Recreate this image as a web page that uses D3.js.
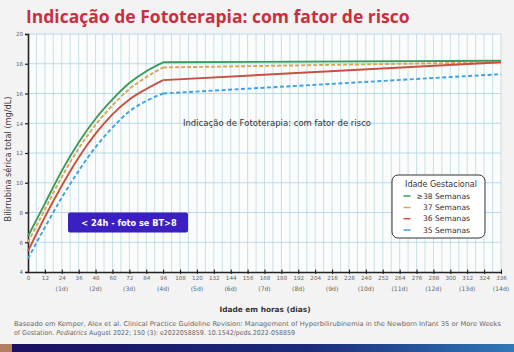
<!DOCTYPE html>
<html><head><meta charset="utf-8">
<script src="https://cdn.jsdelivr.net/npm/d3@7"></script>
<style>
html,body{margin:0;padding:0;background:#f3f3f3;}
svg{display:block;font-family:"DejaVu Sans",sans-serif;}
</style></head>
<body>
<script>
const hours = [0,12,24,36,48,60,72,84,96,336];
const ga38 = [6.4,8.6,10.8,12.7,14.3,15.6,16.7,17.5,18.1,18.2];
const ga37 = [6.0,8.2,10.4,12.3,13.9,15.2,16.3,17.1,17.75,18.1];
const ga36 = [5.4,7.7,9.8,11.7,13.3,14.6,15.6,16.3,16.9,18.1];
const ga35 = [4.9,7.0,9.0,10.8,12.4,13.7,14.8,15.5,16.0,17.3];
const seriesNames = ["\u226538 Semanas","37 Semanas","36 Semanas","35 Semanas"];
const xTicks = d3.range(0,337,12);
const yTicks = [4,6,8,10,12,14,16,18,20];
const dayLabels = ["(1d)","(2d)","(3d)","(4d)","(5d)","(6d)","(7d)","(8d)","(9d)","(10d)","(11d)","(12d)","(13d)","(14d)"];

const W=514,H=352;
const svg=d3.select("body").append("svg").attr("width",W).attr("height",H);
const x=d3.scaleLinear().domain([0,336]).range([28,501]);
const y=d3.scaleLinear().domain([4,20]).range([272,34]);

// title
svg.append("text").attr("x",26).attr("y",23).attr("fill","#c8303f")
 .attr("font-size",17.5).attr("font-weight",700).attr("font-family","Open Sans, sans-serif")
 .text("Indicação de Fototerapia: com fator de risco");

// plot bg
svg.append("rect").attr("x",x(0)).attr("y",y(20)).attr("width",x(336)-x(0)).attr("height",y(4)-y(20)).attr("fill","#fbfcfc");

// grid
const g=svg.append("g");
g.selectAll("line.v").data(d3.range(6,337,6)).join("line")
 .attr("x1",d=>x(d)).attr("x2",d=>x(d)).attr("y1",y(20)).attr("y2",y(4))
 .attr("stroke","#bcd8e3").attr("stroke-width",0.8);
g.selectAll("line.h").data(yTicks.slice(1)).join("line")
 .attr("x1",x(0)).attr("x2",x(336)).attr("y1",d=>y(d)).attr("y2",d=>y(d))
 .attr("stroke","#a9d3ea").attr("stroke-width",0.8);

// axes
const ya=svg.append("g").attr("transform",`translate(${x(0)},0)`)
 .call(d3.axisLeft(y).tickValues(yTicks).tickSize(3).tickPadding(2));
ya.select(".domain").attr("stroke","#222").attr("stroke-width",1.6);
ya.selectAll(".tick line").attr("stroke","#222").attr("stroke-width",1.2);
ya.selectAll(".tick text").attr("font-size",5.6).attr("fill","#666").attr("font-family","DejaVu Sans, sans-serif");

const xa=svg.append("g").attr("transform",`translate(0,${y(4)})`)
 .call(d3.axisBottom(x).tickValues(xTicks).tickSize(0).tickPadding(4));
xa.select(".domain").attr("stroke","#222").attr("stroke-width",1.6);
xa.selectAll(".tick text").attr("font-size",5.6).attr("fill","#666").attr("font-family","DejaVu Sans, sans-serif");
xa.selectAll(".tick").filter(d=>d>0).append("line").attr("y1",-2.5).attr("y2",2).attr("stroke","#222").attr("stroke-width",1.1);
svg.selectAll("text.day").data(dayLabels).join("text")
 .attr("x",(d,i)=>x((i+1)*24)).attr("y",291).attr("text-anchor","middle")
 .attr("font-size",6.1).attr("fill","#666").text(d=>d);

// axis titles
svg.append("text").attr("transform","translate(11,159) rotate(-90)").attr("text-anchor","middle")
 .attr("font-size",8.2).attr("fill","#333").text("Bilirrubina sérica total (mg/dL)");
svg.append("text").attr("x",265).attr("y",312).attr("text-anchor","middle")
 .attr("font-size",7.4).attr("font-weight",700).attr("fill","#333").text("Idade em horas   (dias)");

// lines
const colors=["#3a9a5e","#dca553","#c8513f","#3ea2de"];
const dashes=[null,"4,2","","4,2.5"];
const data=[ga38,ga37,ga36,ga35];
const curve=d3.line().x(d=>x(d[0])).y(d=>y(d[1])).curve(d3.curveMonotoneX);
const lin=d3.line().x(d=>x(d[0])).y(d=>y(d[1]));
data.forEach((vals,i)=>{
  const pts=hours.map((h,j)=>[h,vals[j]]);
  const early=pts.filter(p=>p[0]<=96);
  const late=pts.filter(p=>p[0]>=96);
  [curve(early),lin(late)].forEach(dd=>{
    svg.append("path").attr("d",dd).attr("fill","none").attr("stroke",colors[i])
      .attr("stroke-width",1.9).attr("stroke-dasharray",dashes[i]||null);
  });
});

// center annotation
svg.append("text").attr("x",277).attr("y",125.5).attr("text-anchor","middle")
 .attr("font-size",8.5).attr("fill","#333").text("Indicação de Fototerapia: com fator de risco");

// purple box
svg.append("rect").attr("x",68).attr("y",212.5).attr("width",120).attr("height",20).attr("rx",2)
 .attr("fill","#3b1fc1");
svg.append("text").attr("x",129).attr("y",225.8).attr("text-anchor","middle").attr("fill","#fff")
 .attr("font-size",8.2).attr("font-weight",700).text("< 24h - foto se BT>8");

// legend
svg.append("rect").attr("x",392).attr("y",175).attr("width",93).attr("height",63).attr("rx",6)
 .attr("fill","#fff").attr("stroke","#333").attr("stroke-width",1);
svg.append("text").attr("x",441).attr("y",187.2).attr("text-anchor","middle")
 .attr("font-size",8).attr("fill","#333").text("Idade Gestacional");
const ly=[196,207.5,218.7,230];
seriesNames.forEach((n,i)=>{
  svg.append("line").attr("x1",403.5).attr("x2",410.5).attr("y1",ly[i]).attr("y2",ly[i])
    .attr("stroke",colors[i]).attr("stroke-width",1.5);
  svg.append("text").attr("x",470).attr("y",ly[i]+2.6).attr("text-anchor","end")
    .attr("font-size",7.6).attr("fill","#333").text(n);
});

// citation
svg.append("text").attr("x",14).attr("y",326).attr("font-size",6.6).attr("fill","#666")
 .attr("textLength",487).attr("lengthAdjust","spacingAndGlyphs")
 .text("Baseado em Kemper, Alex et al. Clinical Practice Guideline Revision: Management of Hyperbilirubinemia in the Newborn Infant 35 or More Weeks");
const l2=svg.append("text").attr("x",14).attr("y",335).attr("font-size",6.6).attr("fill","#666")
 .attr("textLength",281).attr("lengthAdjust","spacingAndGlyphs");
l2.append("tspan").text("of Gestation. ");
l2.append("tspan").attr("font-style","italic").text("Pediatrics");
l2.append("tspan").text(" August 2022; 150 (3): e2022058859. 10.1542/peds.2022-058859");

// bottom bar
const grad=svg.append("defs").append("linearGradient").attr("id","bar");
grad.append("stop").attr("offset","0").attr("stop-color","#1a0f5e");
grad.append("stop").attr("offset","0.6").attr("stop-color","#1c2a7a");
grad.append("stop").attr("offset","1").attr("stop-color","#2f78b8");
svg.append("rect").attr("x",0).attr("y",344).attr("width",W).attr("height",8).attr("fill","url(#bar)");
svg.append("rect").attr("x",0).attr("y",344).attr("width",12).attr("height",8).attr("fill","#b08060");
</script>
</body></html>
